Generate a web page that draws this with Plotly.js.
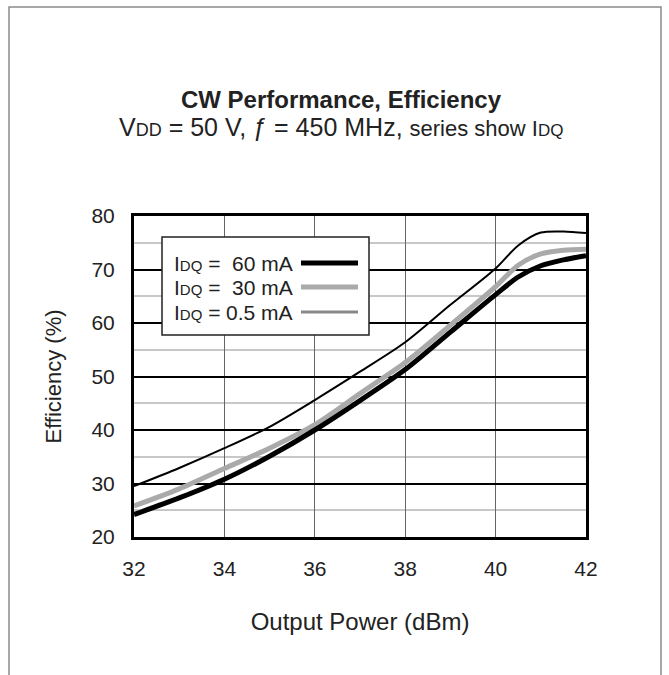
<!DOCTYPE html>
<html>
<head>
<meta charset="utf-8">
<script src="https://cdn.plot.ly/plotly-3.0.1.min.js"></script>
<style>
html,body{margin:0;padding:0;background:#fff;}
#chart{width:669px;height:675px;}
</style>
</head>
<body>
<div id="chart"></div>
<script>
// Output power (dBm)
const power = [32, 33, 34, 35, 36, 37, 38, 39, 40, 40.5, 41, 41.5, 42];
// Efficiency (%) by quiescent drain current
const eff60mA  = [24.2, 27.3, 30.8, 35.1, 40.0, 45.5, 51.3, 58.3, 65.3, 68.6, 70.7, 71.8, 72.6];
const eff30mA  = [25.8, 29.0, 32.8, 36.6, 41.0, 46.8, 52.6, 59.6, 66.8, 70.8, 72.9, 73.6, 73.8];
const eff05mA  = [29.5, 32.9, 36.6, 40.6, 45.6, 50.9, 56.4, 63.4, 70.2, 74.5, 76.9, 77.1, 76.8];

const seriesLabels = ["60 mA", "30 mA", "0.5 mA"];
const xTicks = [32, 34, 36, 38, 40, 42];
const yTicks = [20, 30, 40, 50, 60, 70, 80];

const FONT = '"Liberation Sans", Arial, Helvetica, sans-serif';
const TXT = '#222';

const traces = [
  {x: power, y: eff05mA, mode: 'lines', line: {color: '#000', width: 2, shape: 'spline', smoothing: 0.8}, name: seriesLabels[2]},
  {x: power, y: eff30mA, mode: 'lines', line: {color: '#aaaaaa', width: 5, shape: 'spline', smoothing: 0.8}, name: seriesLabels[1]},
  {x: power, y: eff60mA, mode: 'lines', line: {color: '#000', width: 5, shape: 'spline', smoothing: 0.8}, name: seriesLabels[0]}
];

// paper-coordinate helpers for the decorative frame and legend box
const px2x = p => (p - 134) / 452;
const py2y = p => (537 - p) / 321;

const legendRows = [263, 287, 312];
const legendLine = [
  {color: '#000', width: 5},
  {color: '#aaaaaa', width: 5},
  {color: '#888888', width: 3}
];

const shapes = [
  {type: 'path', xref: 'paper', yref: 'paper',
   path: `M ${px2x(9)} ${py2y(700)} L ${px2x(9)} ${py2y(7)} L ${px2x(661)} ${py2y(7)} L ${px2x(661)} ${py2y(700)}`,
   line: {color: '#8a8a8a', width: 1.5}},
  {type: 'rect', xref: 'paper', yref: 'paper', x0: px2x(162), x1: px2x(369), y0: py2y(335), y1: py2y(237),
   fillcolor: '#fff', line: {color: '#222', width: 1.5}, layer: 'above'}
];
const annotations = [
  {xref: 'paper', yref: 'paper', x: px2x(341), y: py2y(127), xanchor: 'center', yanchor: 'middle', showarrow: false,
   text: 'V<span style="font-size:18px">DD</span> = 50 V, ƒ = 450 MHz, <span style="font-size:22px">series show I</span><span style="font-size:17px">DQ</span>',
   font: {family: FONT, size: 25, color: TXT}}
];
seriesLabels.forEach((lab, i) => {
  const yy = py2y(legendRows[i]);
  shapes.push({type: 'line', xref: 'paper', yref: 'paper', x0: px2x(301), x1: px2x(358), y0: yy, y1: yy,
    line: legendLine[i], layer: 'above'});
  annotations.push({xref: 'paper', yref: 'paper', x: px2x(172), y: yy, xanchor: 'left', yanchor: 'middle', showarrow: false,
    text: 'I<span style="font-size:15px">DQ</span> =', font: {family: FONT, size: 21, color: TXT}});
  annotations.push({xref: 'paper', yref: 'paper', x: px2x(295), y: yy, xanchor: 'right', yanchor: 'middle', showarrow: false,
    text: lab, font: {family: FONT, size: 21, color: TXT}});
});

const layout = {
  width: 669, height: 675,
  margin: {l: 134, r: 83, t: 216, b: 138, pad: 0},
  paper_bgcolor: '#fff', plot_bgcolor: '#fff',
  showlegend: false,
  font: {family: FONT, color: TXT, size: 21},
  title: {text: '<b>CW Performance, Efficiency</b>', x: 341 / 669, xanchor: 'center',
          y: 1 - 100 / 675, yanchor: 'middle', xref: 'container', yref: 'container',
          font: {family: FONT, size: 24, color: TXT}},
  xaxis: {
    range: [32, 42], tickvals: xTicks, ticktext: xTicks.map(String),
    showgrid: true, gridcolor: '#666', gridwidth: 1.2,
    showline: true, linecolor: '#000', linewidth: 3, mirror: true,
    ticks: '', ticklabelstandoff: 11, zeroline: false,
    tickfont: {family: FONT, size: 21, color: TXT},
    title: {text: 'Output Power (dBm)', standoff: 34, font: {family: FONT, size: 24, color: TXT}}
  },
  yaxis: {
    range: [20, 80], tickvals: yTicks, ticktext: yTicks.map(String),
    showgrid: true, gridcolor: '#000', gridwidth: 2,
    minor: {dtick: 5, tick0: 0, showgrid: true, gridcolor: '#c8c8c8', gridwidth: 2, ticks: ''},
    showline: true, linecolor: '#000', linewidth: 3, mirror: true,
    ticks: '', ticklabelstandoff: 12, zeroline: false,
    tickfont: {family: FONT, size: 21, color: TXT},
    title: {text: 'Efficiency (%)', standoff: 24, font: {family: FONT, size: 22, color: TXT}}
  },
  shapes: shapes,
  annotations: annotations
};

Plotly.newPlot('chart', traces, layout, {displayModeBar: false, staticPlot: true});
</script>
</body>
</html>
